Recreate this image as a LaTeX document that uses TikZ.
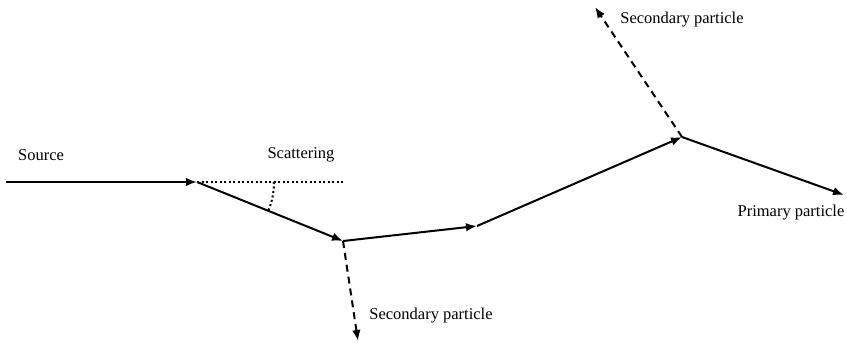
\documentclass[tikz,border=0pt]{standalone}
\usepackage{fontspec}
\setmainfont{Liberation Serif}
\usetikzlibrary{arrows.meta,calc}
\begin{document}
\begin{tikzpicture}[x=1pt,y=-1pt,
  track/.style={line width=2pt,-{Latex[length=11pt,width=8.5pt]}},
  sectrack/.style={track,dash pattern=on 7pt off 5pt},
  dotline/.style={line width=2pt,dash pattern=on 2pt off 2.5pt},
  lbl/.style={font=\fontsize{16.5}{18}\selectfont,inner sep=0pt}]
\useasboundingbox (0,0) rectangle (847,346);
\coordinate (s) at (6,182);
\coordinate (a) at (197,182);
\coordinate (d) at (345,182);
\coordinate (b) at (343,241);
\coordinate (c) at (477,226);
\coordinate (e) at (682,137);
\coordinate (p) at (844,195);
\coordinate (s1) at (358,341);
\coordinate (s2) at (595,7);
\coordinate (arcstart) at ($(a)+(77,0)$);
\draw[track] (s) -- (a);
\draw[dotline] (a) -- (d);
\draw[dotline] (arcstart) arc[start angle=0,end angle=21.7,radius=77];
\draw[track] (a) -- (b);
\draw[sectrack] (b) -- (s1);
\draw[track] (b) -- (c);
\draw[track] (c) -- (e);
\draw[sectrack] (e) -- (s2);
\draw[track] (e) -- (p);
\node[lbl] (src) at (41,155) {Source};
\node[lbl] (sc) at (301,155) {Scattering};
\node[lbl] (sp1) at (431,316) {Secondary particle};
\node[lbl] (sp2) at (682,20) {Secondary particle};
\node[lbl] (pp) at (791,213) {Primary particle};
\end{tikzpicture}
\end{document}
